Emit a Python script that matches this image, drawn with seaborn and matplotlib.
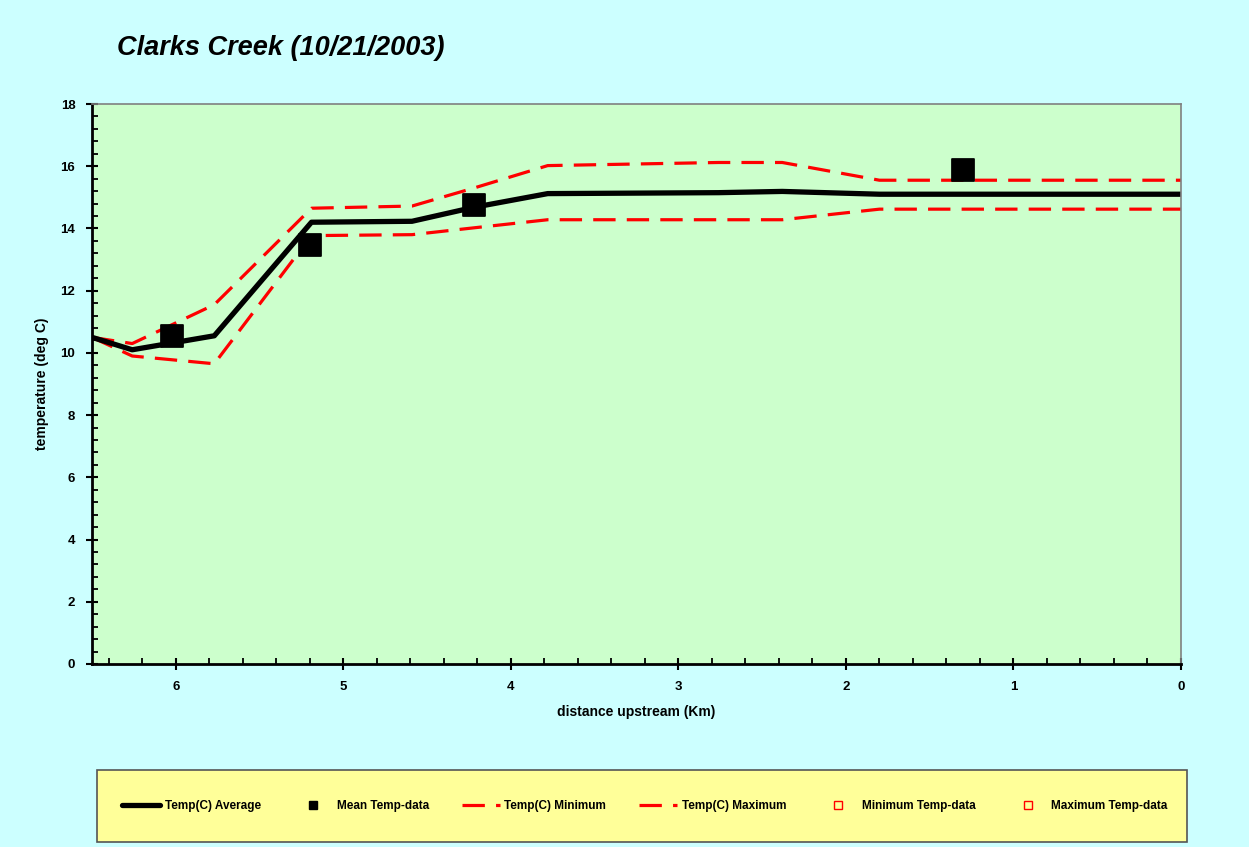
import matplotlib
matplotlib.use("Agg")
import matplotlib.pyplot as plt
import seaborn as sns
import pandas as pd
from matplotlib.patches import Rectangle
from matplotlib.lines import Line2D
from matplotlib.ticker import MultipleLocator

# ---- data ----
distance = [6.5, 6.26, 5.77, 5.19, 4.59, 4.22, 3.78, 2.76, 2.38, 1.80, 0.0]
temp_avg = [10.5, 10.1, 10.55, 14.2, 14.23, 14.68, 15.12, 15.15, 15.19, 15.1, 15.1]
temp_max = [10.5, 10.3, 11.55, 14.65, 14.72, 15.3, 16.02, 16.12, 16.12, 15.55, 15.55]
temp_min = [10.5, 9.9, 9.65, 13.77, 13.8, 14.02, 14.28, 14.28, 14.28, 14.62, 14.62]

mean_dist = [6.02, 5.2, 4.22, 1.30]
mean_temp = [10.54, 13.47, 14.75, 15.88]

min_data_dist, min_data_temp = [], []
max_data_dist, max_data_temp = [], []

title = "Clarks Creek (10/21/2003)"
xticks = [6, 5, 4, 3, 2, 1, 0]
yticks = [0, 2, 4, 6, 8, 10, 12, 14, 16, 18]

sns.set_style("ticks")
plt.rcParams['font.family'] = ['Liberation Sans', 'DejaVu Sans']
plt.rcParams['text.color'] = 'black'
plt.rcParams['axes.labelcolor'] = 'black'
plt.rcParams['xtick.color'] = 'black'
plt.rcParams['ytick.color'] = 'black'

W, H = 1249, 847
fig = plt.figure(figsize=(W / 100, H / 100), dpi=100, facecolor="#CCFFFF")
ax = fig.add_axes([92 / W, 1 - 664 / H, (1181 - 92) / W, (664 - 104) / H])
ax.set_facecolor("#CCFFCC")

df = pd.DataFrame({"d": distance, "avg": temp_avg, "mx": temp_max, "mn": temp_min})

sns.lineplot(data=df, x="d", y="mn", ax=ax, color="#FF0000", lw=2.3,
             sort=False, estimator=None)
ax.lines[-1].set_dashes([7, 3.5])
sns.lineplot(data=df, x="d", y="mx", ax=ax, color="#FF0000", lw=2.3,
             sort=False, estimator=None)
ax.lines[-1].set_dashes([7, 3.5])
sns.lineplot(data=df, x="d", y="avg", ax=ax, color="black", lw=3.8,
             sort=False, estimator=None)
sns.scatterplot(x=mean_dist, y=mean_temp, ax=ax, marker="s", s=250,
                color="black", edgecolor="black", zorder=5)
ax.scatter(min_data_dist, min_data_temp, marker="s", facecolor="none", edgecolor="red")
ax.scatter(max_data_dist, max_data_temp, marker="s", facecolor="none", edgecolor="red")

ax.set_xlim(6.5, 0)
ax.set_ylim(0, 18)
ax.set_xticks(xticks)
ax.set_yticks(yticks)
ax.xaxis.set_minor_locator(MultipleLocator(0.2))
ax.yaxis.set_minor_locator(MultipleLocator(0.4))
ax.tick_params(axis="both", which="major", direction="inout", length=8, width=1.5,
               labelsize=9.5, pad=8)
ax.tick_params(axis="both", which="minor", direction="in", length=4, width=1.3)
for lab in ax.get_xticklabels() + ax.get_yticklabels():
    lab.set_fontweight("bold")

for s in ["left", "bottom"]:
    ax.spines[s].set_color("black")
    ax.spines[s].set_linewidth(2)
for s in ["top", "right"]:
    ax.spines[s].set_visible(True)
    ax.spines[s].set_color("#808080")
    ax.spines[s].set_linewidth(1.2)

ax.set_xlabel("distance upstream (Km)", fontsize=10, fontweight="bold", labelpad=9)
ax.set_ylabel("temperature (deg C)", fontsize=10, fontweight="bold", labelpad=8)

fig.text(117 / W, 1 - 48 / H, title, fontsize=19.5, fontweight="bold",
         fontstyle="italic", va="center", ha="left")

# legend box
fig.patches.append(Rectangle((97 / W, 1 - 842 / H), (1187 - 97) / W, (842 - 770) / H,
                             transform=fig.transFigure, facecolor="#FFFF99",
                             edgecolor="#555555", lw=1.2, zorder=0))
handles = [
    Line2D([], [], color="black", lw=3.8),
    Line2D([], [], color="black", marker="s", ls="none", markersize=6),
    Line2D([], [], color="red", lw=2.3, dashes=[7, 3.5]),
    Line2D([], [], color="red", lw=2.3, dashes=[7, 3.5]),
    Line2D([], [], color="red", marker="s", ls="none", markersize=6, mfc="none"),
    Line2D([], [], color="red", marker="s", ls="none", markersize=6, mfc="none"),
]
labels = ["Temp(C) Average", "Mean Temp-data", "Temp(C) Minimum", "Temp(C) Maximum",
          "Minimum Temp-data", "Maximum Temp-data"]
leg = fig.legend(handles, labels, loc="center", bbox_to_anchor=((127 + 1163) / 2 / W, 1 - 806 / H),
                 ncol=6, frameon=False, prop={"size": 8.5, "weight": "bold"},
                 columnspacing=2.8, handlelength=3.2, handletextpad=0.4)

fig.savefig("out.png", dpi=100, facecolor=fig.get_facecolor())
